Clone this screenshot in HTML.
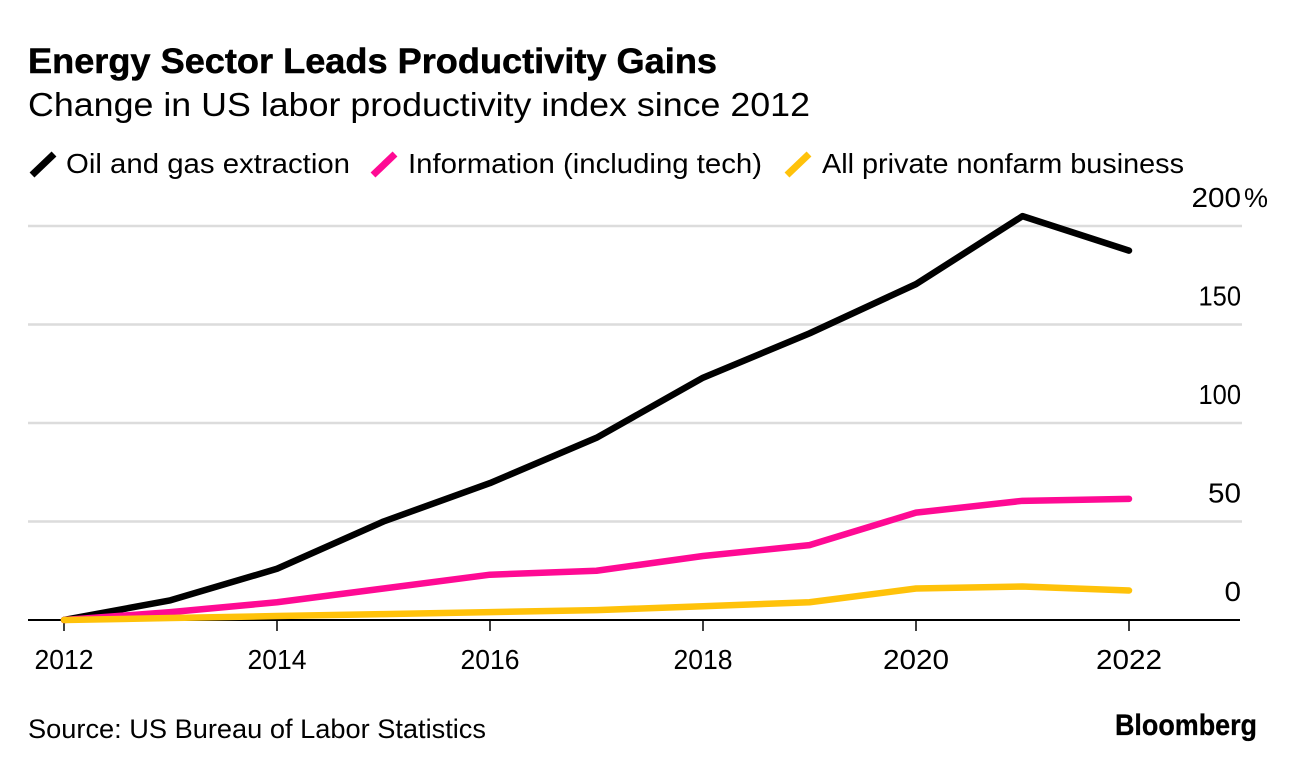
<!DOCTYPE html>
<html lang="en">
<head>
<meta charset="utf-8">
<title>Energy Sector Leads Productivity Gains</title>
<style>
html,body{margin:0;padding:0;background:#fff;}
body{width:1296px;height:770px;overflow:hidden;}
svg{display:block;}
text{font-family:"Liberation Sans",Arial,sans-serif;fill:#000;}
</style>
</head>
<body>
<svg id="chart" width="1296" height="770" viewBox="0 0 1296 770" xmlns="http://www.w3.org/2000/svg">
  <text x="28" y="73" font-size="35" font-weight="700" stroke="#000" stroke-width="0.5" textLength="689" lengthAdjust="spacingAndGlyphs">Energy Sector Leads Productivity Gains</text>
  <text x="28" y="116" font-size="33" textLength="782" lengthAdjust="spacingAndGlyphs">Change in US labor productivity index since 2012</text>
  <g id="legend"></g>
  <g id="grid"></g>
  <g id="yaxis"></g>
  <g id="xaxis"></g>
  <g id="series"></g>
  <text x="28" y="738" font-size="27" textLength="458" lengthAdjust="spacingAndGlyphs">Source: US Bureau of Labor Statistics</text>
  <text x="1115" y="735" font-size="30" font-weight="700" stroke="#000" stroke-width="0.3" textLength="142" lengthAdjust="spacingAndGlyphs">Bloomberg</text>
</svg>
<script>
var years = [2012, 2013, 2014, 2015, 2016, 2017, 2018, 2019, 2020, 2021, 2022];
var oilGas = [0, 10, 26, 50, 69.5, 92.5, 123, 145.5, 170.5, 205, 187.5];
var information = [0, 4, 9, 16, 23, 25, 32.5, 38, 54.5, 60.5, 61.5];
var privateNonfarm = [0, 1, 2, 3, 4, 5, 7, 9, 16, 17, 15];
var yTicks = [0, 50, 100, 150, 200];
var yTickLabels = ['0', '50', '100', '150', '200%'];
var xTicks = [2012, 2014, 2016, 2018, 2020, 2022];
var legendLabels = ['Oil and gas extraction', 'Information (including tech)', 'All private nonfarm business'];

var NS = 'http://www.w3.org/2000/svg';
function xScale(v) { return 64 + (v - 2012) * 106.5; }
function yScale(v) { return 620 - v * 1.97; }
function digitWidth(s) {
  var w = 0;
  for (var i = 0; i < s.length; i++) { w += s.charAt(i) === '1' ? 9.5 : 16.5; }
  return w;
}
function make(tag, attrs, parent, txt) {
  var el = document.createElementNS(NS, tag);
  for (var k in attrs) { el.setAttribute(k, attrs[k]); }
  if (txt !== undefined) { el.textContent = txt; }
  parent.appendChild(el);
  return el;
}

var grid = document.getElementById('grid');
var yaxis = document.getElementById('yaxis');
var xaxis = document.getElementById('xaxis');
var seriesGroup = document.getElementById('series');
var legend = document.getElementById('legend');

yTicks.forEach(function (t, i) {
  if (t !== 0) {
    var g = make('line', {x1: 28, x2: 1242, y1: yScale(t), y2: yScale(t), stroke: '#dcdcdc', 'stroke-width': 2.4}, grid);
    
    
  }
  var raw = yTickLabels[i].replace('%', '');
  var label = make('text', {x: 1241, y: yScale(t) - 19, 'font-size': 28, 'text-anchor': 'end', textLength: digitWidth(raw), lengthAdjust: 'spacingAndGlyphs'}, yaxis, raw);
  
  
  if (yTickLabels[i].indexOf('%') >= 0) {
    var pct = make('text', {x: 1244, y: yScale(t) - 19, 'font-size': 27}, yaxis, '%');
    
    
  }
});

var baseline = make('line', {x1: 28, x2: 1240, y1: yScale(0), y2: yScale(0), stroke: '#000', 'stroke-width': 2}, xaxis);



xTicks.forEach(function (t) {
  var tick = make('line', {x1: xScale(t), x2: xScale(t), y1: yScale(0), y2: yScale(0) + 11, stroke: '#000', 'stroke-width': 1.5}, xaxis);
  
  
  var label = make('text', {x: xScale(t), y: 669, 'font-size': 28, 'text-anchor': 'middle', textLength: digitWidth(String(t)), lengthAdjust: 'spacingAndGlyphs'}, xaxis, String(t));
  
  
});

function drawSeries(values, color, name) {
  var pts = values.map(function (v, i) { return xScale(years[i]) + ',' + yScale(v); }).join(' ');
  var line = make('polyline', {points: pts, fill: 'none', stroke: color, 'stroke-width': 6.5, 'stroke-linejoin': 'round', 'stroke-linecap': 'round'}, seriesGroup);
  
  
}
drawSeries(oilGas, '#000000', 'line-oil-and-gas');
drawSeries(information, '#ff0a94', 'line-information');
drawSeries(privateNonfarm, '#ffc20a', 'line-private-nonfarm');

var legendColors = ['#000000', '#ff0a94', '#ffc20a'];
var legendSwatchX = [32, 373, 787];
var legendTextX = [66, 408, 822];
var legendTextW = [284, 354, 362];
legendLabels.forEach(function (lab, i) {
  var sw = make('line', {x1: legendSwatchX[i], y1: 175, x2: legendSwatchX[i] + 22, y2: 154, stroke: legendColors[i], 'stroke-width': 7}, legend);
  
  
  var tx = make('text', {x: legendTextX[i], y: 173, 'font-size': 28, textLength: legendTextW[i], lengthAdjust: 'spacingAndGlyphs'}, legend, lab);
  
  
});
</script>
</body>
</html>
